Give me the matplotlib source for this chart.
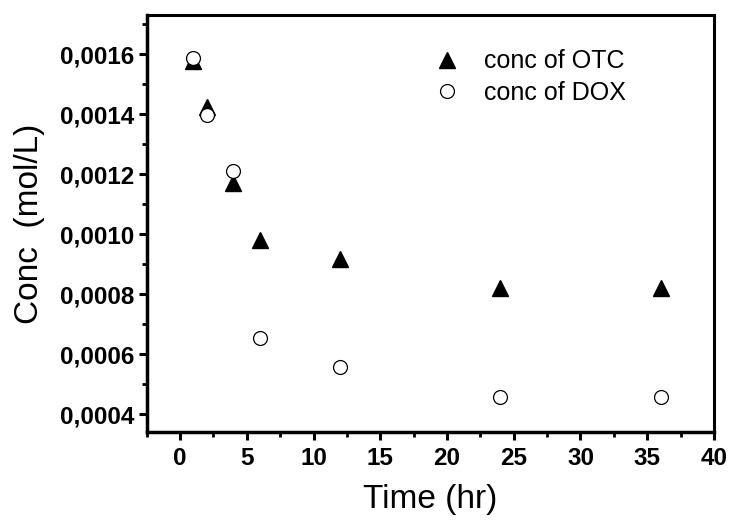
import matplotlib
matplotlib.use('Agg')
import matplotlib.pyplot as plt
from matplotlib.ticker import MultipleLocator, FuncFormatter

plt.rcParams['font.family'] = ['Liberation Sans', 'DejaVu Sans']

# data
time_hr = [1, 2, 4, 6, 12, 24, 36]
conc_otc = [0.001578, 0.001425, 0.001172, 0.000981, 0.000918, 0.000821, 0.000821]
conc_dox = [0.001587, 0.001398, 0.001209, 0.000654, 0.000557, 0.000457, 0.000457]

fig = plt.figure(figsize=(7.3, 5.22), dpi=100)
ax = fig.add_axes([0.201, 0.172, 0.777, 0.799])

ax.plot(time_hr, conc_otc, linestyle='none', marker='^', markersize=12,
        color='black', label='conc of OTC')
ax.plot(time_hr, conc_dox, linestyle='none', marker='o', markersize=10,
        markerfacecolor='white', markeredgecolor='black', markeredgewidth=0.9,
        label='conc of DOX')

ax.set_xlim(-2.5, 40)
ax.set_ylim(0.00034, 0.00173)

ax.xaxis.set_major_locator(MultipleLocator(5))
ax.xaxis.set_minor_locator(MultipleLocator(2.5))
ax.yaxis.set_major_locator(MultipleLocator(0.0002))
ax.yaxis.set_minor_locator(MultipleLocator(0.0001))
ax.yaxis.set_major_formatter(FuncFormatter(lambda v, p: f"{v:.4f}".replace('.', ',')))

for s in ['top', 'right']:
    ax.spines[s].set_linewidth(2.2)
for s in ['left', 'bottom']:
    ax.spines[s].set_linewidth(2.5)

ax.tick_params(which='major', direction='out', length=6, width=2.2, labelsize=17.5, pad=3)
ax.tick_params(which='minor', direction='out', length=3.5, width=2)
ax.tick_params(axis='x', which='major', pad=5)
for lbl in ax.get_xticklabels() + ax.get_yticklabels():
    lbl.set_fontweight('bold')

ax.set_xlabel('Time (hr)', fontsize=24, labelpad=10)
ax.set_ylabel('Conc  (mol/L)', fontsize=24, labelpad=11)

ax.legend(loc='upper left', bbox_to_anchor=(0.445, 0.972), frameon=False,
          fontsize=18, handletextpad=0.5, labelspacing=0.3, handlelength=2.0)

fig.savefig('out.png', dpi=100)
